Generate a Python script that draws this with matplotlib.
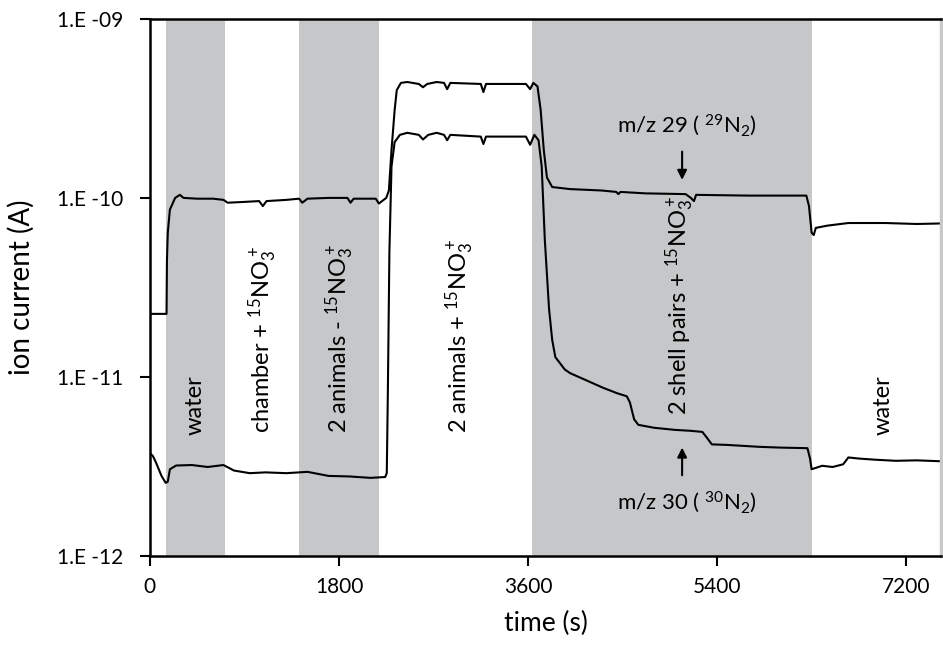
import matplotlib
matplotlib.use("Agg")
import matplotlib.pyplot as plt

plt.rcParams['font.family'] = ['Lato', 'DejaVu Sans']
plt.rcParams['mathtext.default'] = 'regular'

# time axis (s) and ion currents (A)
t29 = [0, 158, 162, 170, 190, 240, 285, 320, 450, 600, 700, 740, 900, 1040, 1075, 1110,
       1300, 1420, 1450, 1500, 1700, 1880, 1910, 1940, 2150, 2180, 2210, 2250, 2275, 2300,
       2330, 2350, 2390, 2450, 2560, 2600, 2640, 2730, 2800, 2830, 2860, 3150, 3175, 3200,
       3580, 3620, 3650, 3690, 3720, 3750, 3780, 3830, 4000, 4300, 4440, 4460, 4480, 4600,
       4720, 5100, 5150, 5180, 5200, 5700, 6000, 6250, 6275, 6300, 6320, 6340, 6450, 6650,
       7000, 7300, 7533]
i29 = [2.25e-11, 2.25e-11, 4.5e-11, 6.4e-11, 8.6e-11, 1.0e-10, 1.04e-10, 1.0e-10, 0.99e-10,
       0.99e-10, 0.975e-10, 0.94e-10, 0.95e-10, 0.96e-10, 0.90e-10, 0.96e-10, 0.975e-10,
       0.99e-10, 0.94e-10, 0.99e-10, 1.0e-10, 1.0e-10, 0.94e-10, 0.99e-10, 0.99e-10, 0.93e-10,
       0.96e-10, 1.0e-10, 1.1e-10, 1.85e-10, 3.1e-10, 4.0e-10, 4.39e-10, 4.44e-10, 4.33e-10,
       4.15e-10, 4.33e-10, 4.44e-10, 4.39e-10, 4.05e-10, 4.39e-10, 4.33e-10, 3.9e-10, 4.33e-10,
       4.33e-10, 4.05e-10, 4.39e-10, 4.2e-10, 3.1e-10, 1.85e-10, 1.3e-10, 1.15e-10, 1.12e-10,
       1.1e-10, 1.08e-10, 1.05e-10, 1.08e-10, 1.07e-10, 1.06e-10, 1.05e-10, 1.0e-10, 0.96e-10,
       1.04e-10, 1.03e-10, 1.03e-10, 1.03e-10, 0.9e-10, 6.4e-11, 6.2e-11, 6.8e-11, 7.0e-11,
       7.24e-11, 7.24e-11, 7.15e-11, 7.2e-11]

t30 = [0, 30, 60, 110, 150, 170, 190, 250, 400, 550, 700, 800, 950, 1100, 1300, 1500, 1700,
       1900, 2100, 2240, 2255, 2265, 2280, 2300, 2330, 2380, 2450, 2560, 2600, 2650, 2730,
       2800, 2830, 2860, 3150, 3175, 3200, 3580, 3620, 3660, 3700, 3730, 3760, 3800, 3830,
       3860, 3950, 4000, 4150, 4314, 4450, 4540, 4570, 4610, 4650, 4800, 5000, 5150, 5260,
       5300, 5350, 5500, 5800, 6000, 6260, 6285, 6300, 6400, 6500, 6600, 6650, 6750, 6900,
       7100, 7300, 7533]
i30 = [3.76e-12, 3.6e-12, 3.3e-12, 2.8e-12, 2.56e-12, 2.6e-12, 3.05e-12, 3.2e-12, 3.22e-12,
       3.14e-12, 3.22e-12, 3.0e-12, 2.9e-12, 2.93e-12, 2.9e-12, 2.95e-12, 2.8e-12, 2.78e-12,
       2.73e-12, 2.76e-12, 2.9e-12, 8e-12, 5e-11, 1.5e-10, 2.05e-10, 2.25e-10, 2.31e-10,
       2.25e-10, 2.12e-10, 2.25e-10, 2.31e-10, 2.25e-10, 2.1e-10, 2.25e-10, 2.2e-10, 2.0e-10,
       2.2e-10, 2.2e-10, 1.98e-10, 2.25e-10, 2.1e-10, 1.5e-10, 5.8e-11, 2.4e-11, 1.61e-11,
       1.29e-11, 1.1e-11, 1.05e-11, 9.6e-12, 8.7e-12, 8.1e-12, 7.8e-12, 7.2e-12, 5.8e-12,
       5.4e-12, 5.2e-12, 5.06e-12, 5.0e-12, 4.93e-12, 4.6e-12, 4.2e-12, 4.17e-12, 4.07e-12,
       4.03e-12, 4.0e-12, 3.5e-12, 3.05e-12, 3.19e-12, 3.14e-12, 3.25e-12, 3.55e-12, 3.5e-12,
       3.45e-12, 3.4e-12, 3.42e-12, 3.38e-12]

# treatment phases: (start, end) of shaded ones, and labels with their centre time
shaded = [(150, 715), (1420, 2180), (3635, 6305)]
phase_labels = ['water', 'chamber + $^{15}$NO$_3^+$', '2 animals - $^{15}$NO$_3^+$',
                '2 animals + $^{15}$NO$_3^+$', '2 shell pairs + $^{15}$NO$_3^+$', 'water']
phase_t = [430, 1076, 1810, 2952, 5048, 6981]

yticks = [1e-12, 1e-11, 1e-10, 1e-9]
ytick_labels = ['1.E -12', '1.E -11', '1.E -10', '1.E -09']
xticks = [0, 1800, 3600, 5400, 7200]

fig = plt.figure(figsize=(9.43, 6.51), dpi=100)
ax = fig.add_axes([0.159, 0.146, 0.839, 0.825])

for a, b in shaded:
    ax.axvspan(a, b, color='#c5c7c9', lw=0, zorder=0)

ax.plot(t29, i29, color='black', lw=1.5)
ax.plot(t30, i30, color='black', lw=1.5)

ax.set_yscale('log')
ax.set_ylim(1e-12, 1e-9)
ax.set_xlim(0, 7533)
ax.set_yticks(yticks)
ax.set_yticklabels(ytick_labels)
ax.yaxis.set_minor_locator(matplotlib.ticker.NullLocator())
ax.set_xticks(xticks)
ax.set_xticklabels([str(x) for x in xticks])
ax.tick_params(labelsize=15, length=7, width=1.5, direction='out')
ax.tick_params(axis='y', pad=12)
ax.tick_params(axis='x', pad=8)

for s in ['left', 'bottom', 'top']:
    ax.spines[s].set_linewidth(1.8)
ax.spines['right'].set_color('#c8c8c8')
ax.spines['right'].set_linewidth(2.5)

ax.set_xlabel('time (s)', fontsize=19, labelpad=10)
ax.set_ylabel('ion current (A)', fontsize=20, labelpad=16)

tb = matplotlib.transforms.blended_transform_factory(ax.transData, ax.transAxes)
bottoms = [0.225, 0.229, 0.229, 0.229, 0.263, 0.225]
for lab, tc, yb in zip(phase_labels, phase_t, bottoms):
    ax.text(tc, yb, lab, rotation=90, ha='center', va='bottom', fontsize=17, transform=tb)

ax.text(5114, 0.803, 'm/z 29 ( $^{29}$N$_2$)', ha='center', va='center', fontsize=16, transform=tb)
ax.text(5114, 0.101, 'm/z 30 ( $^{30}$N$_2$)', ha='center', va='center', fontsize=16, transform=tb)
ax.annotate('', xy=(5067, 0.695), xytext=(5067, 0.758), xycoords=tb, textcoords=tb,
            arrowprops=dict(arrowstyle='-|>', color='black', lw=1.5, mutation_scale=14))
ax.annotate('', xy=(5067, 0.207), xytext=(5067, 0.145), xycoords=tb, textcoords=tb,
            arrowprops=dict(arrowstyle='-|>', color='black', lw=1.5, mutation_scale=14))

fig.savefig('out.png', dpi=100)
